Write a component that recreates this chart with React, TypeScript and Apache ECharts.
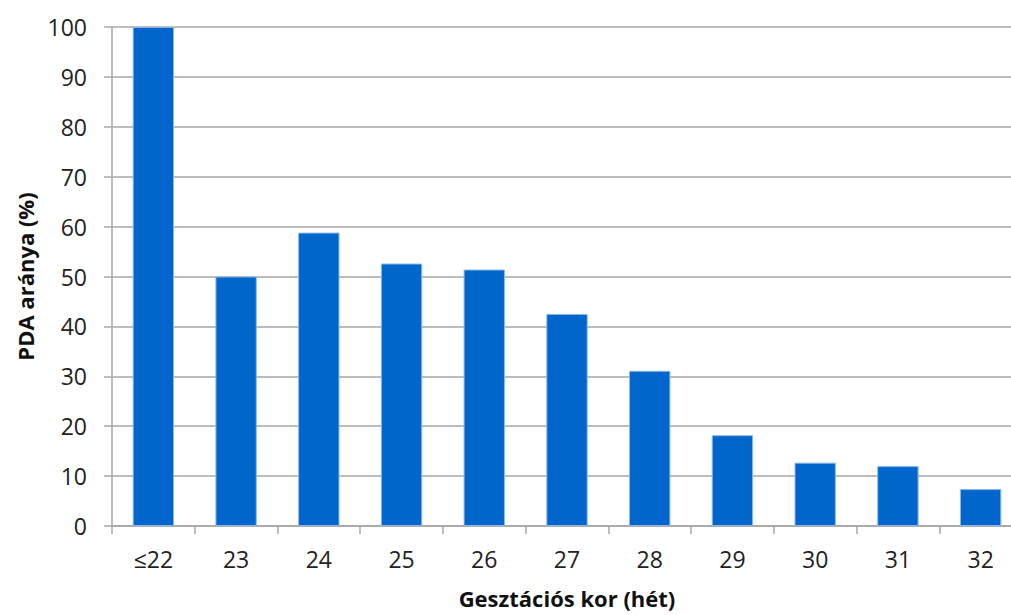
import React, { useEffect, useRef } from "react";
import * as echarts from "echarts";

const categories = ["≤22", "23", "24", "25", "26", "27", "28", "29", "30", "31", "32"];
const values = [100, 50, 58.8, 52.6, 51.4, 42.5, 31.1, 18.2, 12.7, 12.0, 7.4];
const yTicks = { min: 0, max: 100, interval: 10 };
const xName = "Gesztációs kor (hét)";
const yName = "PDA aránya (%)";

export default function App() {
  const ref = useRef<HTMLDivElement>(null);
  useEffect(() => {
    const chart = echarts.init(ref.current!, undefined, { renderer: "svg" });
    const font = "'Open Sans', 'Noto Sans', sans-serif";
    chart.setOption({
      animation: false,
      grid: { left: 112, right: 18, top: 27, bottom: 89, containLabel: false, outerBoundsMode: "none" },
      xAxis: {
        type: "category",
        data: categories,
        boundaryGap: true,
        name: xName,
        nameLocation: "middle",
        nameGap: 61,
        nameTextStyle: { fontFamily: font, fontSize: 22, fontWeight: "bold", color: "#111" },
        axisLine: { lineStyle: { color: "#a6a6a6", width: 1.5 } },
        axisTick: { show: true, length: 8, alignWithLabel: false, lineStyle: { color: "#a6a6a6", width: 1.5 } },
        axisLabel: { fontFamily: font, fontSize: 23, color: "#222", margin: 21 },
        splitLine: { show: false },
      },
      yAxis: {
        type: "value",
        min: yTicks.min,
        max: yTicks.max,
        interval: yTicks.interval,
        name: yName,
        nameLocation: "middle",
        nameGap: 76,
        nameTextStyle: { fontFamily: font, fontSize: 22, fontWeight: "bold", color: "#111" },
        axisLine: { show: true, lineStyle: { color: "#a6a6a6", width: 1.5 } },
        axisTick: { show: true, length: 8, lineStyle: { color: "#a6a6a6", width: 1.5 } },
        axisLabel: { fontFamily: font, fontSize: 23, color: "#222", margin: 25 },
        splitLine: { show: true, lineStyle: { color: "#a6a6a6", width: 1.5 } },
      },
      series: [
        {
          type: "bar",
          data: values,
          barWidth: "50%",
          itemStyle: { color: "#0066cc", borderColor: "#8ab8e8", borderWidth: 1 },
        },
      ],
    });
    return () => chart.dispose();
  }, []);
  return (
    <div style={{ position: "absolute", left: 0, top: 0, width: 1011, height: 615, overflow: "hidden", background: "#fff" }}>
      <div ref={ref} style={{ width: 1040, height: 615 }} />
    </div>
  );
}
